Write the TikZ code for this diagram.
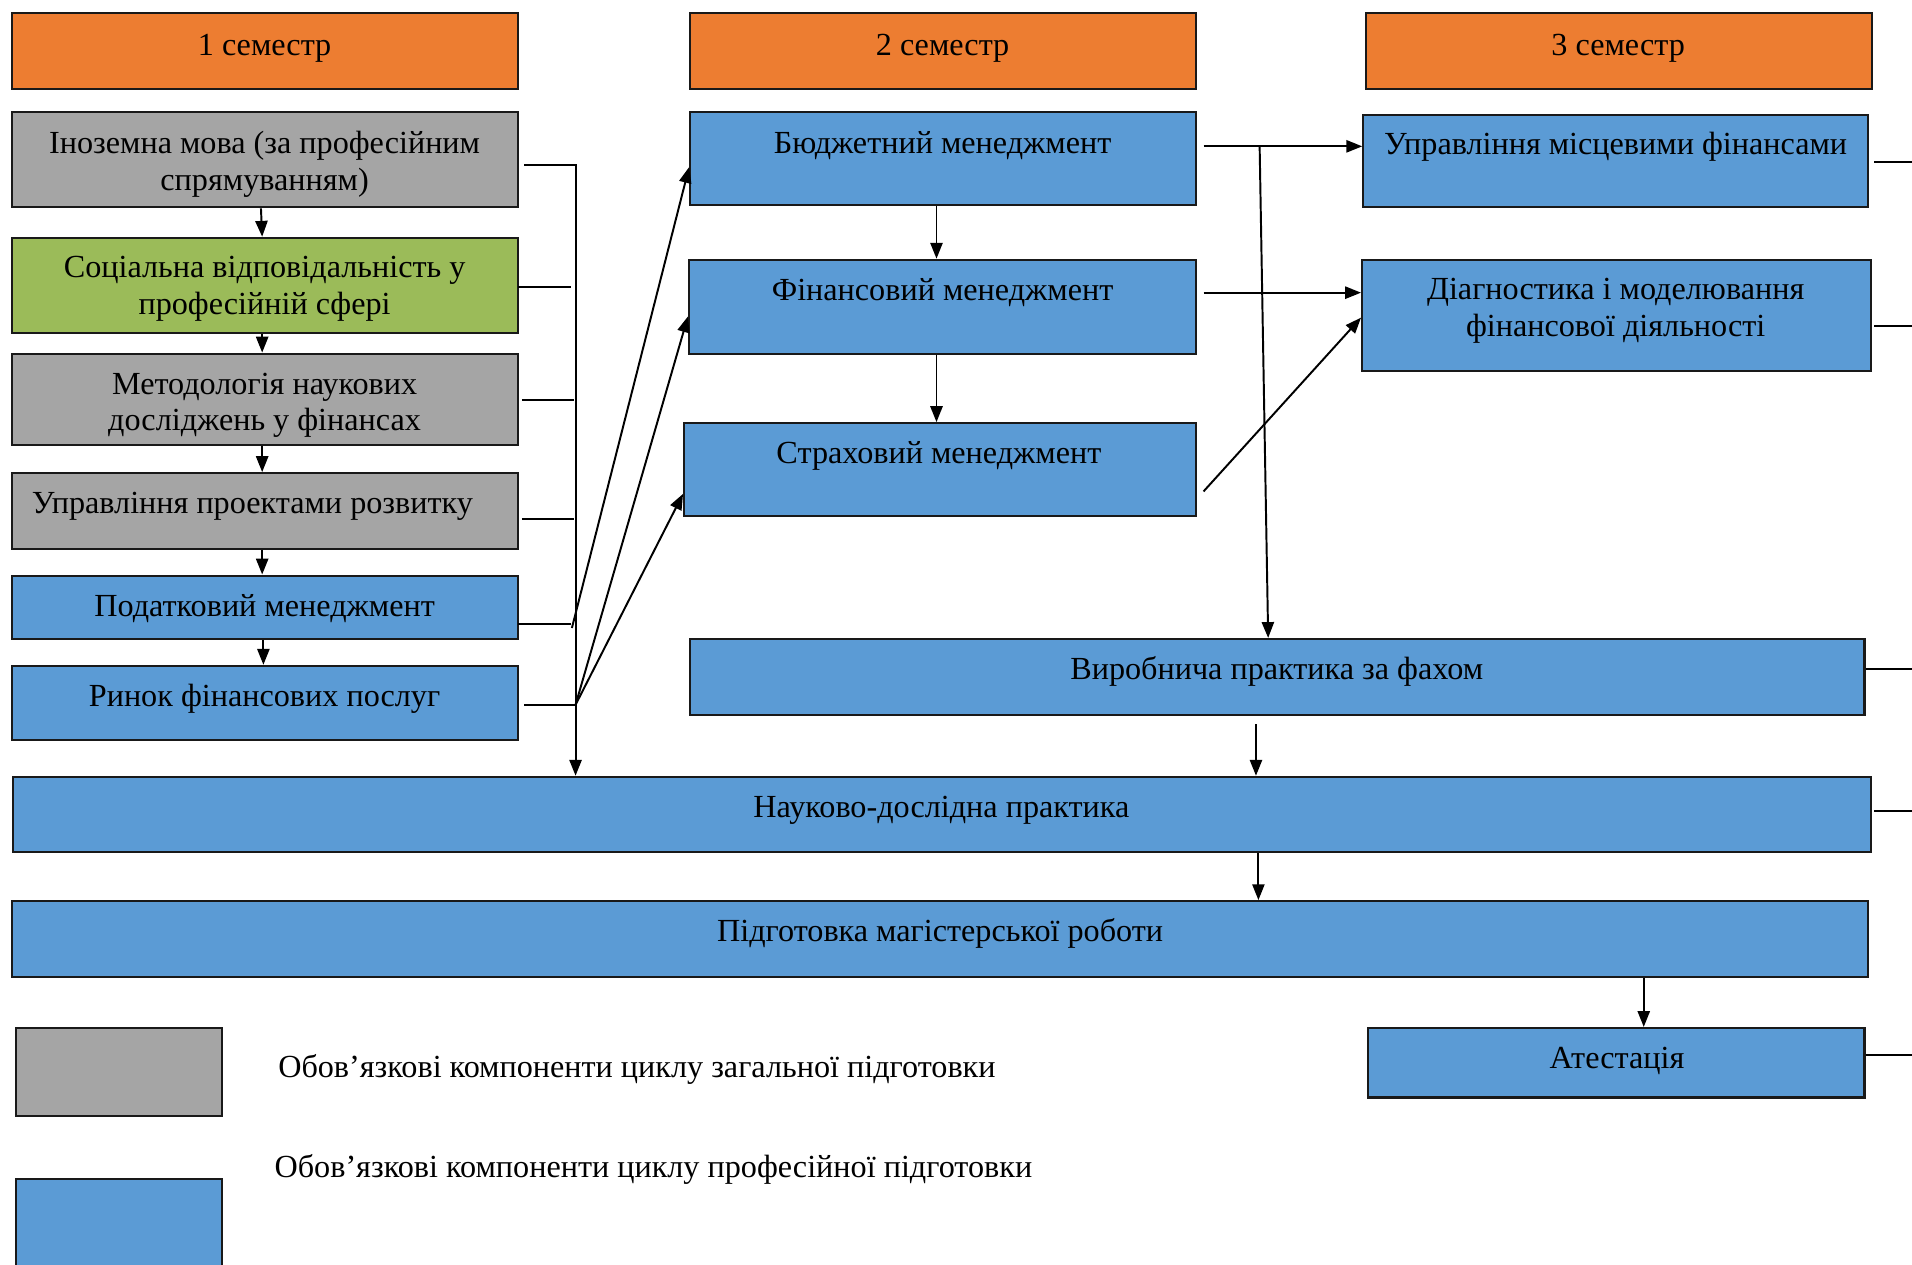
\documentclass[tikz,border=0pt]{standalone}
\usepackage{fontspec}
\setmainfont{Liberation Serif}
\usetikzlibrary{arrows.meta,fit,calc}
\definecolor{cOr}{HTML}{ED7D31}
\definecolor{cGr}{HTML}{A5A5A5}
\definecolor{cGn}{HTML}{9BBB59}
\definecolor{cBl}{HTML}{5B9BD5}
\begin{document}
\begin{tikzpicture}[x=1pt,y=-1pt,
  box/.style={draw=black!90, line width=1.7pt, inner sep=0pt},
  txt2/.style={font=\fontsize{26.4}{30}\selectfont, align=center, inner sep=0pt},
  txt/.style={txt2, text height=20pt, text depth=3pt},
  ln/.style={line width=1.6pt},
  arr/.style={ln, -{Triangle[length=13pt,width=10pt]}}]
\useasboundingbox (0,0) rectangle (1568,1037);
% headers
\node[box,fill=cOr,fit={(10,11)(425,73)}] (s1) {};
\node[txt] (s1t) at (217,37) {1 семестр};
\node[box,fill=cOr,fit={(566,11)(981,73)}] (s2) {};
\node[txt] (s2t) at (773,37) {2 семестр};
\node[box,fill=cOr,fit={(1120,11)(1535,73)}] (s3) {};
\node[txt] (s3t) at (1327,37) {3 семестр};
% column 1
\node[box,fill=cGr,fit={(10,92)(425,170)}] (ino) {};
\node[txt2] (inot) at (217,134.5) {Іноземна мова (за професійним\\спрямуванням)};
\node[box,fill=cGn,fit={(10,195)(425,273)}] (soc) {};
\node[txt2] (soct) at (217,237) {Соціальна відповідальність у\\професійній сфері};
\node[box,fill=cGr,fit={(10,290)(425,365)}] (met) {};
\node[txt2] (mett) at (217,332.5) {Методологія наукових\\досліджень у фінансах};
\node[box,fill=cGr,fit={(10,388)(425,450)}] (upr) {};
\node[txt] (uprt) at (207,413) {Управління проектами розвитку};
\node[box,fill=cBl,fit={(10,472)(425,524)}] (pod) {};
\node[txt] (podt) at (217,497) {Податковий менеджмент};
\node[box,fill=cBl,fit={(10,546)(425,607)}] (rin) {};
\node[txt] (rint) at (217,571) {Ринок фінансових послуг};
% column 2
\node[box,fill=cBl,fit={(566,92)(981,168)}] (bud) {};
\node[txt] (budt) at (773,117) {Бюджетний менеджмент};
\node[box,fill=cBl,fit={(565,213)(981,290)}] (fin) {};
\node[txt] (fint) at (773,238) {Фінансовий менеджмент};
\node[box,fill=cBl,fit={(561,347)(981,423)}] (str) {};
\node[txt] (strt) at (770,372) {Страховий менеджмент};
% column 3
\node[box,fill=cBl,fit={(1118,94)(1532,170)}] (umf) {};
\node[txt] (umft) at (1325,118) {Управління місцевими фінансами};
\node[box,fill=cBl,fit={(1117,213)(1534,304)}] (dia) {};
\node[txt2] (diat) at (1325,255) {Діагностика і моделювання\\фінансової діяльності};
% wide boxes
\node[box,fill=cBl,fit={(566,524)(1529,586)}] (vyr) {};
\node[txt] (vyrt) at (1047,549) {Виробнича практика за фахом};
\node[box,fill=cBl,fit={(11,637)(1534,699)}] (nau) {};
\node[txt] (naut) at (772,662) {Науково-дослідна практика};
\node[box,fill=cBl,fit={(10,739)(1532,801)}] (pid) {};
\node[txt] (pidt) at (771,764) {Підготовка магістерської роботи};
\node[box,fill=cBl,fit={(1122,843)(1529,900)}] (ate) {};
\node[txt] (atet) at (1326,868) {Атестація};
% legend
\node[box,fill=cGr,fit={(13,843)(182,915)}] (lg1) {};
\node[txt,anchor=west] (lg1t) at (228,875) {Обов’язкові компоненти циклу загальної підготовки};
\node[box,fill=cBl,fit={(13,967)(182,1045)}] (lg2) {};
\node[txt,anchor=west] (lg2t) at (225,957) {Обов’язкові компоненти циклу професійної підготовки};
% column 1 arrows
\draw[arr] (ino.south -| 214,0) -- (soc.north -| 215,0);
\draw[arr] (soc.south -| 215,0) -- (met.north -| 215,0);
\draw[arr] (met.south -| 215,0) -- (upr.north -| 215,0);
\draw[arr] (upr.south -| 215,0) -- (pod.north -| 215,0);
\draw[arr] (pod.south -| 216,0) -- (rin.north -| 216,0);
% bus
\coordinate (busT) at (472,135);
\coordinate (busB) at (472,578);
\coordinate (busP) at (469,515);
\draw[arr] (430,135) -- (busT) -- (busT |- nau.north);
\draw[ln] (425,235) -- (468,235);
\draw[ln] (428,328) -- (471,328);
\draw[ln] (428,426) -- (471,426);
\draw[ln] (425,512) -- (468,512);
\draw[ln] (430,578) -- (busB);
\draw[arr] (busP) -- ([yshift=-7pt]bud.west);
\draw[arr] (busB) -- ([yshift=-8pt]fin.west);
\draw[arr] (busB) -- ([yshift=-20pt]str.west);
% column 2 arrows
\draw[arr] (bud.south -| 768,0) -- (fin.north -| 768,0);
\draw[arr] (fin.south -| 768,0) -- (str.north -| 768,0);
% to column 3
\coordinate (br) at (1033,120);
\draw[arr] (987,120) -- (umf.west |- br);
\draw[arr] (br) -- (vyr.north -| 1040,0);
\draw[arr] (987,240) -- (dia.west |- 0,240);
\draw[arr] (987,403) -- ([yshift=-2pt]dia.west);
% right stubs
\draw[ln] (1537,133) -- (1568,133);
\draw[ln] (1537,267) -- (1568,267);
\draw[ln] (1530,549) -- (1568,549);
\draw[ln] (1537,665) -- (1568,665);
\draw[ln] (1530,865) -- (1568,865);
% lower arrows
\draw[arr] (1030,594) -- (nau.north -| 1030,0);
\draw[arr] (nau.south -| 1032,0) -- (pid.north -| 1032,0);
\draw[arr] (pid.south -| 1348,0) -- (ate.north -| 1348,0);
\end{tikzpicture}
\end{document}
